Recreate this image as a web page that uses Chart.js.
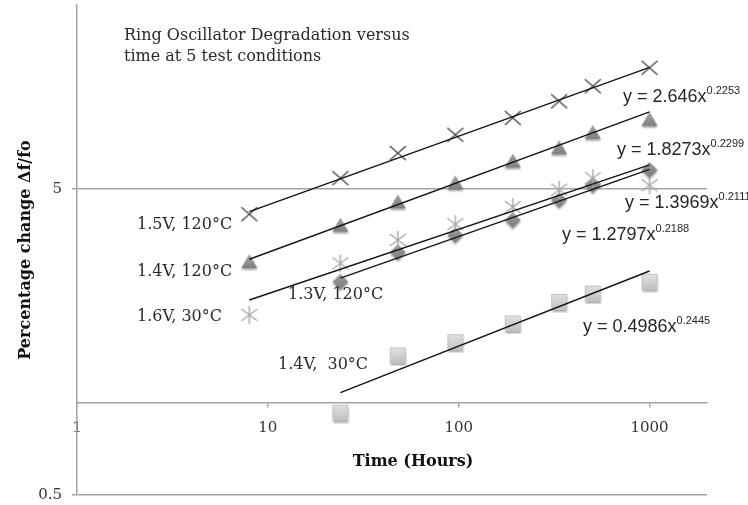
<!DOCTYPE html>
<html>
<head>
<meta charset="utf-8">
<script src="https://cdn.jsdelivr.net/npm/chart.js@4/dist/chart.umd.min.js"></script>
<style>
  html, body { margin: 0; padding: 0; background: #ffffff; }
  #c { display: block; }
</style>
</head>
<body>
<canvas id="c" width="748" height="505"></canvas>
<script>
// ---------------- DATA ----------------
const hours = [8, 24, 48, 96, 192, 336, 504, 1000];
const v15t120 = [4.14, 5.43, 6.56, 7.53, 8.55, 9.69, 10.85, 12.47];
const v14t120 = [2.89, 3.80, 4.53, 5.23, 6.16, 6.81, 7.64, 8.43];
const v16t30  = [1.94, 2.86, 3.41, 3.84, 4.37, 4.98, 5.43, 5.15];
const v13t120 = [null, 2.49, 3.11, 3.54, 3.96, 4.61, 5.16, 5.78];
const v14t30  = [null, 0.93, 1.43, 1.58, 1.82, 2.14, 2.28, 2.49];

// trendline end points (power fits are straight on log-log)
const trendX15t120 = [8, 1000],  trendY15t120 = [4.22, 12.5];
const trendX14t120 = [8, 1000],  trendY14t120 = [2.95, 8.95];
const trendX16t30  = [8, 1000],  trendY16t30  = [2.17, 6.0];
const trendX13t120 = [24, 1000], trendY13t120 = [2.56, 5.8];
const trendX14t30  = [24, 1000], trendY14t30  = [1.08, 2.70];

const seriesNames = ['1.5V, 120°C', '1.4V, 120°C', '1.6V, 30°C', '1.3V, 120°C', '1.4V,  30°C'];
const eqCoef = ['2.646', '1.8273', '1.3969', '1.2797', '0.4986'];
const eqExp  = ['0.2253', '0.2299', '0.2111', '0.2188', '0.2445'];

const xTicks = [1, 10, 100, 1000];
const yTicks = [0.5, 5];

const titleLines = ['Ring Oscillator Degradation versus', 'time at 5 test conditions'];
const xTitle = 'Time (Hours)';
const yTitle = 'Percentage change \u0394f/fo';

// ---------------- MARKERS ----------------
function mk(w, h, draw) {
  const c = document.createElement('canvas');
  c.width = w; c.height = h;
  draw(c.getContext('2d'));
  return c;
}
const mCross = mk(20, 20, g => {
  g.strokeStyle = '#505050'; g.lineWidth = 1.5;
  g.beginPath(); g.moveTo(2, 3); g.lineTo(18, 17); g.moveTo(18, 3); g.lineTo(2, 17); g.stroke();
});
const mTri = mk(22, 22, g => {
  g.shadowColor = 'rgba(0,0,0,0.35)'; g.shadowBlur = 2; g.shadowOffsetY = 2;
  const gr = g.createLinearGradient(0, 3, 0, 18);
  gr.addColorStop(0, '#a4a4a4'); gr.addColorStop(1, '#7c7c7c');
  g.fillStyle = gr;
  g.beginPath(); g.moveTo(11, 3); g.lineTo(19, 17); g.lineTo(3, 17); g.closePath(); g.fill();
});
const mStar = mk(20, 20, g => {
  g.strokeStyle = '#a9a9a9'; g.lineWidth = 1.4;
  g.beginPath();
  g.moveTo(10, 1); g.lineTo(10, 19);
  g.moveTo(2, 4); g.lineTo(18, 16);
  g.moveTo(18, 4); g.lineTo(2, 16);
  g.stroke();
});
const mDia = mk(22, 22, g => {
  g.shadowColor = 'rgba(0,0,0,0.3)'; g.shadowBlur = 2; g.shadowOffsetY = 2;
  const gr = g.createLinearGradient(0, 3, 0, 19);
  gr.addColorStop(0, '#9a9a9a'); gr.addColorStop(1, '#7e7e7e');
  g.fillStyle = gr;
  g.beginPath(); g.moveTo(11, 3); g.lineTo(19, 11); g.lineTo(11, 19); g.lineTo(3, 11); g.closePath(); g.fill();
});
const mSq = mk(22, 22, g => {
  g.shadowColor = 'rgba(0,0,0,0.35)'; g.shadowBlur = 2; g.shadowOffsetY = 2;
  const gr = g.createLinearGradient(0, 3, 0, 18);
  gr.addColorStop(0, '#e2e2e2'); gr.addColorStop(1, '#c2c2c2');
  g.fillStyle = gr;
  g.fillRect(3.5, 3.5, 15, 15);
  g.shadowColor = 'transparent';
  g.strokeStyle = '#c4c4c4'; g.lineWidth = 1;
  g.strokeRect(3.5, 3.5, 15, 15);
});

// ---------------- DATASETS ----------------
function pts(xs, ys) {
  const out = [];
  xs.forEach((x, i) => { if (ys[i] != null) out.push({ x: x, y: ys[i] }); });
  return out;
}
function markerSet(ys, img) {
  return { data: pts(hours, ys), showLine: false, pointStyle: img, pointRadius: 9, order: 2 };
}
function trendSet(xs, ys) {
  return { data: pts(xs, ys), showLine: true, borderColor: '#151515', borderWidth: 1.4, pointRadius: 0, order: 1, fill: false };
}

const datasets = [
  trendSet(trendX15t120, trendY15t120),
  trendSet(trendX14t120, trendY14t120),
  trendSet(trendX16t30, trendY16t30),
  trendSet(trendX13t120, trendY13t120),
  trendSet(trendX14t30, trendY14t30),
  markerSet(v15t120, mCross),
  markerSet(v14t120, mTri),
  markerSet(v16t30, mStar),
  markerSet(v13t120, mDia),
  markerSet(v14t30, mSq)
];

// ---------------- TEXT LAYOUT ----------------
const textLayout = {
  title: { x: 124, y: [40, 61], font: '16px "DejaVu Serif"' },
  names: [[137, 225], [137, 272], [137, 317], [288, 295], [278, 365]],
  nameFont: '16px "DejaVu Serif"',
  eqs: [[623, 97], [617, 150], [625, 203], [562, 235], [583, 327]],
  eqFont: '18px "Liberation Sans"',
  eqSupFont: '11px "Liberation Sans"',
  xTitle: [413, 462],
  yTitle: [26, 250],
  axisTitleFont: 'bold 16px "DejaVu Serif"'
};

const textPlugin = {
  id: 'texts',
  afterDraw(chart) {
    const g = chart.ctx;
    g.save();
    g.fillStyle = '#2a2a2a';
    g.textBaseline = 'alphabetic';
    g.textAlign = 'left';
    g.font = textLayout.title.font;
    titleLines.forEach((t, i) => g.fillText(t, textLayout.title.x, textLayout.title.y[i]));

    g.textBaseline = 'middle';
    g.font = textLayout.nameFont;
    seriesNames.forEach((t, i) => g.fillText(t, textLayout.names[i][0], textLayout.names[i][1]));

    seriesNames.forEach((_, i) => {
      const [x, y] = textLayout.eqs[i];
      g.font = textLayout.eqFont;
      const main = 'y = ' + eqCoef[i] + 'x';
      g.fillStyle = '#262626';
      g.fillText(main, x, y);
      const w = g.measureText(main).width;
      g.font = textLayout.eqSupFont;
      g.fillText(eqExp[i], x + w, y - 6);
    });

    g.fillStyle = '#111';
    g.font = textLayout.axisTitleFont;
    g.textAlign = 'center';
    g.fillText(xTitle, textLayout.xTitle[0], textLayout.xTitle[1]);
    g.translate(textLayout.yTitle[0], textLayout.yTitle[1]);
    g.rotate(-Math.PI / 2);
    g.fillText(yTitle, 0, 0);
    g.restore();
  }
};

// ---------------- CHART ----------------
const axisGray = '#a3a3a3';
const noPad = s => { s.paddingTop = 0; s.paddingBottom = 0; s.paddingLeft = 0; s.paddingRight = 0; };
new Chart(document.getElementById('c'), {
  type: 'scatter',
  data: { datasets },
  plugins: [textPlugin],
  options: {
    responsive: false,
    devicePixelRatio: 1,
    animation: false,
    layout: { autoPadding: false, padding: { left: 0, right: 41, top: 5, bottom: 10 } },
    plugins: { legend: { display: false }, tooltip: { enabled: false } },
    scales: {
      x: {
        type: 'logarithmic',
        min: 1, max: 2000,
        position: { y: 1 },
        afterBuildTicks: s => { s.ticks = xTicks.map(v => ({ value: v })); },
        afterFit: noPad,
        ticks: {
          autoSkip: false, maxRotation: 0,
          callback: v => String(v),
          color: '#333', padding: 12,
          font: { family: '"DejaVu Serif"', size: 15 }
        },
        grid: { drawOnChartArea: false, drawTicks: true, tickLength: 4, color: axisGray, lineWidth: 1.5 },
        border: { color: axisGray, width: 1.5 }
      },
      y: {
        type: 'logarithmic',
        min: 0.5, max: 20,
        afterBuildTicks: s => { s.ticks = yTicks.map(v => ({ value: v })); },
        afterFit: s => { s.width = 77; noPad(s); },
        ticks: {
          autoSkip: false,
          callback: v => String(v),
          color: '#333', padding: 10,
          font: { family: '"DejaVu Serif"', size: 15 }
        },
        grid: { color: axisGray, lineWidth: 1.5, drawTicks: true, tickLength: 5 },
        border: { color: axisGray, width: 1.5 }
      }
    }
  }
});
</script>
</body>
</html>
